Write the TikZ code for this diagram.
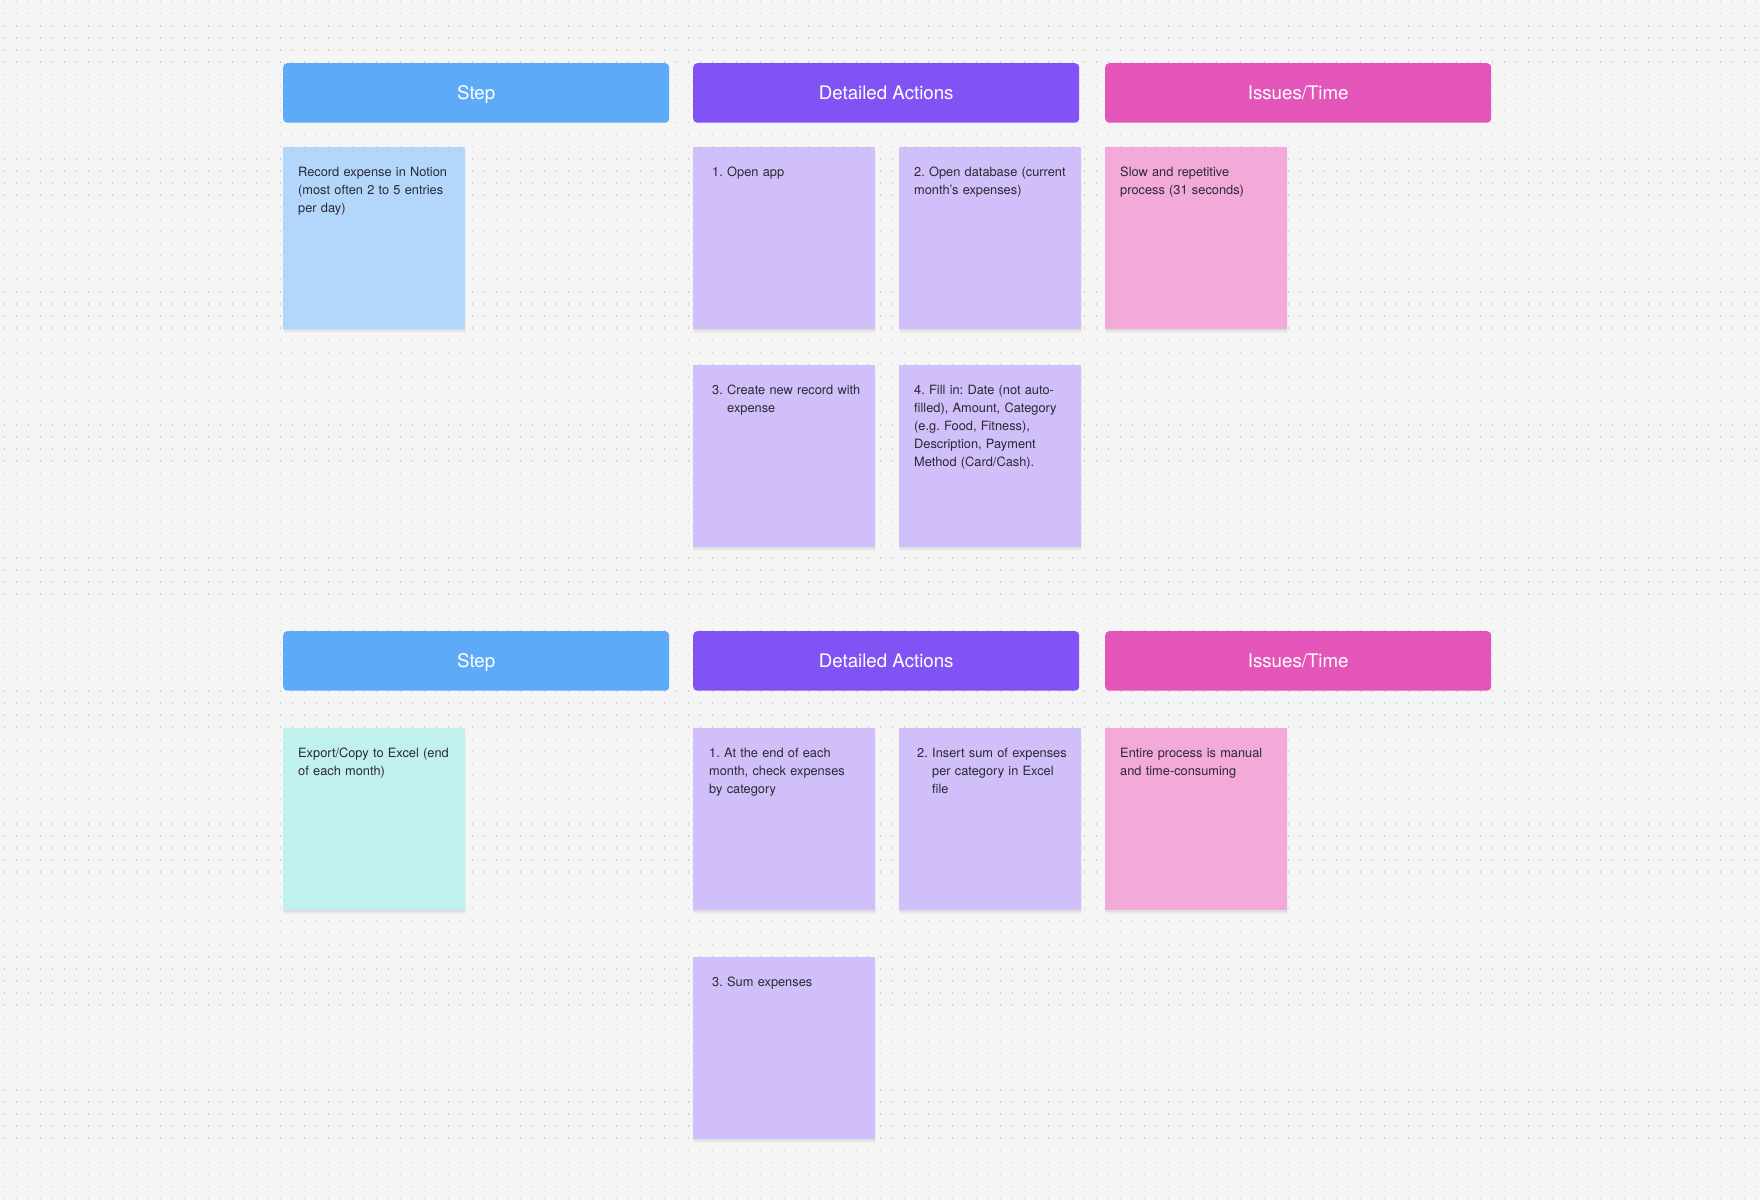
\documentclass[tikz,border=0pt]{standalone}
\usepackage{fontspec}
\setmainfont{TeX Gyre Heros}
\frenchspacing
\definecolor{bgcol}{HTML}{F5F5F5}
\definecolor{dotcol}{HTML}{C9C9C9}
\definecolor{hstep}{HTML}{5DAAF7}
\definecolor{hact}{HTML}{8153F5}
\definecolor{hiss}{HTML}{E455BA}
\definecolor{sblue}{HTML}{B2D7FB}
\definecolor{spurple}{HTML}{D0BFF8}
\definecolor{spink}{HTML}{F3AAD8}
\definecolor{steal}{HTML}{C1F1EE}
\definecolor{txtcol}{HTML}{2A2834}
\tikzset{
  hdr/.style={fill=#1, draw=none, rounded corners=4pt, minimum width=386pt, minimum height=59.5pt,
    inner sep=0pt, anchor=north west, text=white, font=\fontsize{18.7}{22}\selectfont,
    text height=13.4pt, text depth=0pt},
  sticky/.style={fill=#1, draw=none, minimum width=182pt, minimum height=182pt, inner sep=0pt,
    anchor=north west,
    preaction={fill=black, fill opacity=0.035, transform canvas={xshift=0.5pt,yshift=-4pt}},
    preaction={fill=black, fill opacity=0.05, transform canvas={yshift=-2pt}}},
  stxt/.style={font=\fontsize{12.8}{18}\selectfont, text=txtcol, inner sep=0pt,
    text width=168pt, align=left, anchor=base west},
  snum/.style={font=\fontsize{12.8}{18}\selectfont, text=txtcol, inner sep=0pt, anchor=base west}
}
\begin{document}
\begin{tikzpicture}[x=1pt,y=-1pt]
\useasboundingbox (0,0) rectangle (1760,1200);
\fill[bgcol] (0,0) rectangle (1760,1200);
% dot grid
\foreach \k in {0,...,99} {
  \draw[dotcol, line width=1.4pt, dash pattern=on 1.4pt off 10.6pt]
    (3.6,{1.7+12.09*\k}) -- (1760,{1.7+12.09*\k});
}
% ---------- Section 1 ----------
\node[hdr=hstep] (h1) at (283,63) {Step};
\node[hdr=hact]  (h2) at (693,63) {Detailed Actions};
\node[hdr=hiss]  (h3) at (1105,63) {Issues/Time};

\node[sticky=sblue]   (s1) at (283,147) {};
\node[sticky=spurple] (a1) at (693,147) {};
\node[sticky=spurple] (a2) at (899,147) {};
\node[sticky=spink]   (i1) at (1105,147) {};
\node[sticky=spurple] (a3) at (693,365) {};
\node[sticky=spurple] (a4) at (899,365) {};

\node[stxt] (s1t) at (298,176) {Record expense in Notion\\(most often 2 to 5 entries\\per day)};
\node[snum] (a1n) at (712,176) {1.};
\node[stxt] (a1t) at (727,176) {Open app};
\node[stxt] (a2t) at (914,176) {2. Open database (current\\month's expenses)};
\node[stxt] (i1t) at (1120,176) {Slow and repetitive\\process (31 seconds)};
\node[snum] (a3n) at (712,394) {3.};
\node[stxt] (a3t) at (727,394) {Create new record with\\expense};
\node[stxt] (a4t) at (914,394) {4. Fill in: Date (not auto-\\filled), Amount, Category\\(e.g. Food, Fitness),\\Description, Payment\\Method (Card/Cash).};

% ---------- Section 2 ----------
\node[hdr=hstep] (g1) at (283,631) {Step};
\node[hdr=hact]  (g2) at (693,631) {Detailed Actions};
\node[hdr=hiss]  (g3) at (1105,631) {Issues/Time};

\node[sticky=steal]   (u1) at (283,728) {};
\node[sticky=spurple] (b1) at (693,728) {};
\node[sticky=spurple] (b2) at (899,728) {};
\node[sticky=spink]   (j1) at (1105,728) {};
\node[sticky=spurple] (b3) at (693,957) {};

\node[stxt] (u1t) at (298,757) {Export/Copy to Excel (end\\of each month)};
\node[stxt] (b1t) at (709,757) {1. At the end of each\\month, check expenses\\by category};
\node[snum] (b2n) at (917,757) {2.};
\node[stxt] (b2t) at (932,757) {Insert sum of expenses\\per category in Excel\\file};
\node[stxt] (j1t) at (1120,757) {Entire process is manual\\and time-consuming};
\node[snum] (b3n) at (712,986) {3.};
\node[stxt] (b3t) at (727,986) {Sum expenses};
\end{tikzpicture}
\end{document}
